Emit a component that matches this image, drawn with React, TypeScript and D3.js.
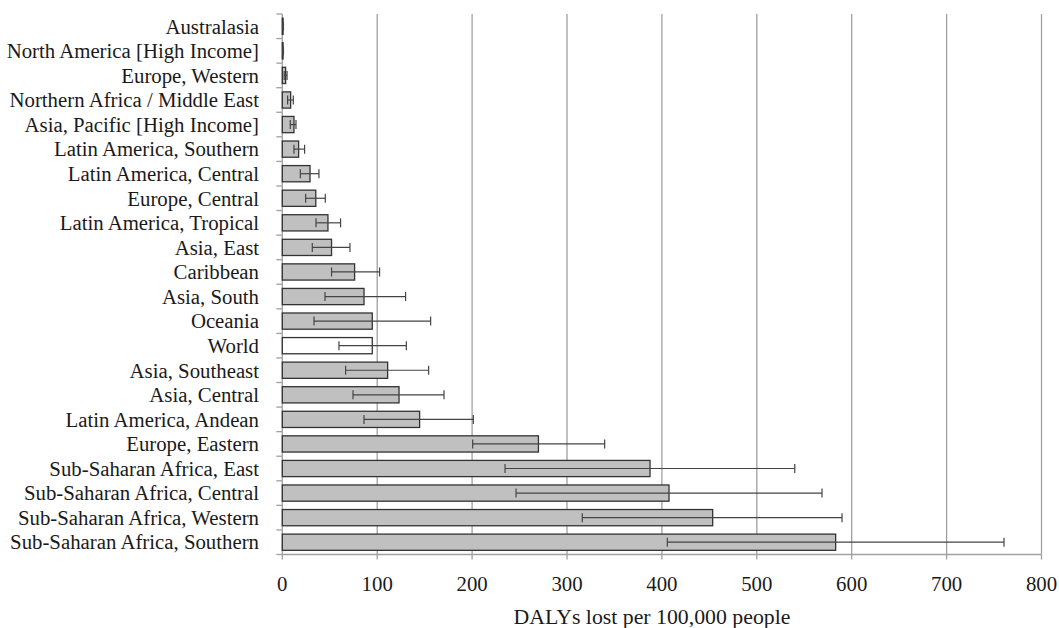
import React from "react";
import * as d3 from "d3";

const categories = [
  "Australasia",
  "North America [High Income]",
  "Europe, Western",
  "Northern Africa / Middle East",
  "Asia, Pacific [High Income]",
  "Latin America, Southern",
  "Latin America, Central",
  "Europe, Central",
  "Latin America, Tropical",
  "Asia, East",
  "Caribbean",
  "Asia, South",
  "Oceania",
  "World",
  "Asia, Southeast",
  "Asia, Central",
  "Latin America, Andean",
  "Europe, Eastern",
  "Sub-Saharan Africa, East",
  "Sub-Saharan Africa, Central",
  "Sub-Saharan Africa, Western",
  "Sub-Saharan Africa, Southern",
];
const values = [0.8, 0.8, 3.5, 8.8, 12.3, 17.2, 29.2, 35.3, 48.1, 51.9, 76.2, 86.1, 94.8, 94.8, 111, 123, 144.7, 269.9, 387.5, 407.5, 453.5, 583.1];
const lower = [0.4, 0.4, 2, 5.6, 8.4, 12.3, 19, 24.6, 35.5, 31.6, 51.9, 45, 33.4, 59.7, 66.7, 74.5, 86.1, 200.6, 234.7, 246.3, 316.1, 405.7];
const upper = [1.2, 1.2, 5, 11.6, 14.4, 23.5, 38.6, 45.3, 61.4, 71.3, 102.5, 129.9, 156.3, 130.7, 154.2, 170.4, 201.3, 339.7, 540, 568.7, 589.8, 760.5];
const xTicks = [0, 100, 200, 300, 400, 500, 600, 700, 800];
const xTitle = "DALYs lost per 100,000 people";
const highlight = "World";

export default function App() {
  const W = 1059, H = 628;
  const left = 282.3, right = 1041.5, top = 14, bottom = 554.5;
  const x = d3.scaleLinear().domain([0, 800]).range([left, right]);
  const y = d3.scaleBand().domain(categories).range([top, bottom]).paddingInner(0.34).paddingOuter(0.17);
  const font = "'Liberation Serif', 'Times New Roman', Times, Tinos, 'Noto Serif', 'DejaVu Serif', serif";
  const fs = 20.8;
  const capH = 9;
  return (
    <svg width={W} height={H} style={{ position: "absolute", left: 0, top: 0, fontFamily: font }}>
      <rect width={W} height={H} fill="#fff" />
      {xTicks.filter((t) => t > 0).map((t) => (
        <line key={"g" + t} x1={x(t)} x2={x(t)} y1={top} y2={bottom} stroke="#a0a0a0" strokeWidth={1.3} />
      ))}
      <line x1={left} x2={left} y1={top} y2={bottom} stroke="#a0a0a0" strokeWidth={1.3} />
      {d3.range(categories.length + 1).map((i) => {
        const yy = top + (i * (bottom - top)) / categories.length;
        return <line key={"yt" + i} x1={left - 6} x2={left} y1={yy} y2={yy} stroke="#a0a0a0" strokeWidth={1.3} />;
      })}
      <line x1={left} x2={right} y1={bottom} y2={bottom} stroke="#a0a0a0" strokeWidth={1.3} />
      {xTicks.map((t) => (
        <g key={"xt" + t}>
          <line x1={x(t)} x2={x(t)} y1={bottom} y2={bottom + 5} stroke="#a0a0a0" strokeWidth={1.3} />
          <text x={x(t)} y={591} textAnchor="middle" fontSize={fs} fill="#1a1a1a" style={{ fontFamily: font }}>{t}</text>
        </g>
      ))}
      <text x={652} y={624} textAnchor="middle" fontSize={21.8} fill="#1a1a1a" style={{ fontFamily: font }}>{xTitle}</text>
      {categories.map((c, i) => {
        const by = y(c)!;
        const bh = y.bandwidth();
        const cy = by + bh / 2;
        return (
          <g key={c}>
            <text x={259} y={cy} dy="0.35em" textAnchor="end" fontSize={fs} fill="#1a1a1a" style={{ fontFamily: font }}>{c}</text>
            <rect x={x(0)} y={by} width={x(values[i]) - x(0)} height={bh}
              fill={c === highlight ? "#ffffff" : "#c0c0c0"} stroke="#333" strokeWidth={1.3} />
            <line x1={x(lower[i])} x2={x(upper[i])} y1={cy} y2={cy} stroke="#444" strokeWidth={1.2} />
            <line x1={x(lower[i])} x2={x(lower[i])} y1={cy - capH / 2} y2={cy + capH / 2} stroke="#444" strokeWidth={1.2} />
            <line x1={x(upper[i])} x2={x(upper[i])} y1={cy - capH / 2} y2={cy + capH / 2} stroke="#444" strokeWidth={1.2} />
          </g>
        );
      })}
    </svg>
  );
}
